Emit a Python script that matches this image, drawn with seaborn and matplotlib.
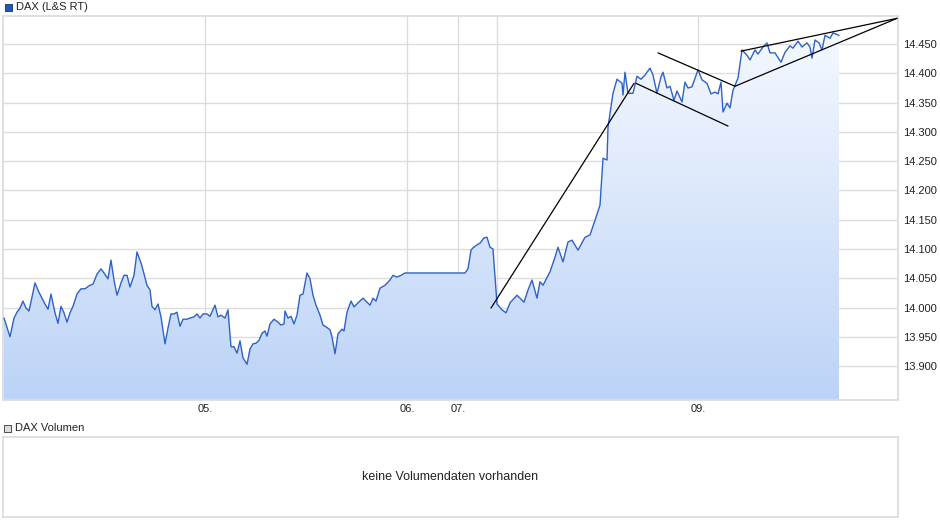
import numpy as np
import pandas as pd
import seaborn as sns
import matplotlib
matplotlib.use("Agg")
import matplotlib.pyplot as plt
from matplotlib.patches import Rectangle
from matplotlib.colors import LinearSegmentedColormap

sns.set_theme(style="white")
plt.rcParams['font.family'] = ['Liberation Sans', 'DejaVu Sans']

t = [4,10,14,17,20,23,26,29,35,39,42,45,48,51,55,58,61,64,67,70,73,77,81,85,89,93,97,101,104,108,
     111,114,117,121,124,127,130,134,137,141,143,147,150,152,155,158,161,165,168,171,174,177,180,183,187,190,194,197,200,203,
     207,210,215,218,221,225,228,231,234,237,240,243,247,250,253,256,259,262,265,267,270,274,278,281,284,285,288,291,294,297,
     300,303,307,310,313,316,320,323,326,330,332,335,338,342,344,347,351,354,358,363,367,370,373,376,380,385,390,393,397,401,
     405,408,465,468,471,473,477,480,484,487,490,493,497,502,506,510,517,520,524,528,532,537,540,543,550,555,558,563,568,572,
     578,585,590,595,600,603,607,608,613,617,622,623,625,628,633,637,641,645,650,653,657,661,663,667,670,674,677,682,685,688,
     692,698,702,707,711,715,718,721,723,727,730,733,738,742,747,750,755,758,763,767,770,775,781,785,790,793,798,802,807,810,
     812,815,819,822,825,830,833,839]
dax = [13982,13950,13982,13992,13999,14011,13999,13994,14042,14026,14016,14006,13997,14023,13991,13973,14002,13991,13975,13991,
       14002,14023,14032,14032,14037,14040,14057,14066,14059,14049,14081,14047,14021,14042,14055,14055,14035,14055,14095,14076,
       14064,14038,14030,14002,13996,14006,13984,13938,13965,13989,13989,13992,13968,13980,13980,13982,13984,13989,13982,13989,
       13989,13985,14004,13984,13987,13982,13996,13933,13933,13922,13943,13914,13903,13929,13938,13939,13944,13956,13960,13951,
       13972,13980,13975,13970,13972,13994,13982,13985,13972,13987,14021,14023,14059,14049,14021,14004,13987,13970,13967,13962,
       13950,13921,13955,13963,13960,13992,14011,14001,14008,14016,14009,14004,14016,14011,14033,14038,14047,14055,14052,14055,
       14059,14059,14059,14066,14098,14102,14107,14110,14119,14120,14103,14100,14006,13996,13991,14008,14021,14016,14009,14030,
       14047,14016,14044,14038,14061,14086,14103,14078,14112,14115,14098,14120,14124,14149,14175,14255,14252,14308,14366,14390,
       14383,14363,14402,14366,14366,14395,14390,14397,14409,14397,14366,14394,14402,14375,14378,14354,14370,14351,14385,14375,
       14377,14406,14389,14383,14365,14368,14365,14385,14334,14349,14341,14371,14392,14440,14431,14423,14440,14433,14445,14452,
       14435,14435,14419,14436,14447,14443,14455,14445,14452,14445,14426,14457,14452,14440,14465,14460,14469,14465]

# trend lines (x, value) pairs
trend_x = [[491, 634], [636, 728], [658, 735], [735, 897], [741, 897]]
trend_y = [[13999, 14383], [14383, 14310], [14435, 14378], [14378, 14494], [14438, 14494]]

xtick_pos = [205, 407, 458, 497, 698]
xtick_lab = ["05.", "06.", "07.", "", "09."]
yticks = [13900, 13950, 14000, 14050, 14100, 14150, 14200, 14250, 14300, 14350, 14400, 14450]

df = pd.DataFrame({"t": t, "dax": dax})
ylo, yhi = 13842, 14498
xlo, xhi = 3, 898

fig = plt.figure(figsize=(9.4, 5.26), dpi=100)
W, H = 940, 526
ax = fig.add_axes([3 / W, (H - 400) / H, (898 - 3) / W, 384 / H])

grad = np.linspace(0, 1, 256).reshape(-1, 1)
cmap = LinearSegmentedColormap.from_list("g", ["#bcd3f7", "#f7faff"])
poly = ax.fill_between(df["t"], df["dax"], ylo, color="none", lw=0)
im = ax.imshow(grad, aspect="auto", cmap=cmap, origin="lower",
               extent=[xlo, xhi, ylo, yhi], zorder=1)
im.set_clip_path(poly.get_paths()[0], transform=ax.transData)

sns.lineplot(data=df, x="t", y="dax", ax=ax, color="#2e62c8", lw=1.0, zorder=3)
for xs, ys in zip(trend_x, trend_y):
    ax.plot(xs, ys, color="black", lw=0.9, zorder=4)

ax.set_xlim(xlo, xhi)
ax.set_ylim(ylo, yhi)
ax.set_xticks(xtick_pos)
ax.set_xticklabels(xtick_lab)
ax.set_yticks(yticks)
ax.set_yticklabels([f"{v/1000:.3f}" for v in yticks])
ax.yaxis.tick_right()
ax.tick_params(axis="both", labelsize=8, colors="#222222", length=0, pad=3)
ax.tick_params(axis="y", pad=4)
ax.grid(True, color="#dcdcdc", lw=1)
ax.set_axisbelow(True)
ax.set_xlabel("")
ax.set_ylabel("")
for s in ax.spines.values():
    s.set_color("#dcdcdc")

fig.patches.append(Rectangle((5 / W, (H - 11) / H), 7 / W, 7 / H, transform=fig.transFigure,
                             facecolor="#1f56c0", edgecolor="#1a2f6b", lw=0.6))
fig.text(16 / W, (H - 7.5) / H, "DAX (L&S RT)", fontsize=8, va="center", color="#222222")

ax2 = fig.add_axes([3 / W, (H - 517) / H, (898 - 3) / W, 80 / H])
ax2.set_xticks([]); ax2.set_yticks([])
for s in ax2.spines.values():
    s.set_color("#dcdcdc")
ax2.text(0.5, 0.5, "keine Volumendaten vorhanden", ha="center", va="center",
         fontsize=9, color="#222222", transform=ax2.transAxes)
fig.patches.append(Rectangle((4 / W, (H - 432) / H), 7 / W, 7 / H, transform=fig.transFigure,
                             facecolor="#dddddd", edgecolor="#333333", lw=0.6))
fig.text(15 / W, (H - 428) / H, "DAX Volumen", fontsize=8, va="center", color="#222222")

fig.savefig("out.png", dpi=100)
